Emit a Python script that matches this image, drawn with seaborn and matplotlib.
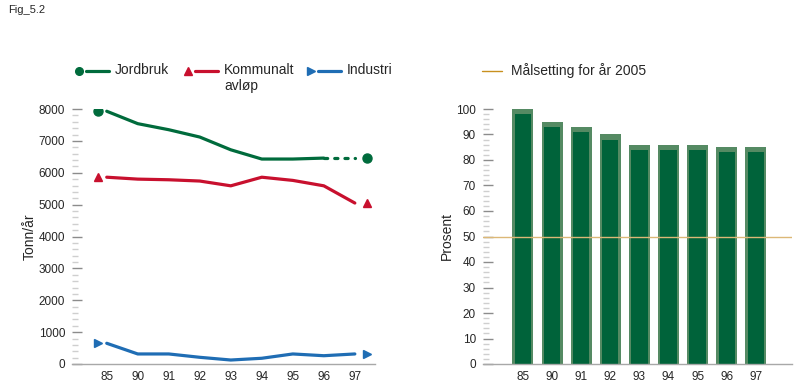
import numpy as np
import pandas as pd
import seaborn as sns
import matplotlib.pyplot as plt
from matplotlib.lines import Line2D
from matplotlib.ticker import MultipleLocator

# Data
years = ['85', '90', '91', '92', '93', '94', '95', '96', '97']
jordbruk = [7930, 7540, 7350, 7120, 6720, 6430, 6430, 6460, 6460]
kommunalt = [5860, 5800, 5780, 5740, 5590, 5860, 5760, 5590, 5050]
industri = [650, 315, 315, 210, 125, 180, 315, 260, 315]
prosent = [100, 95, 93, 90, 86, 86, 86, 85, 85]
maal_2005 = 50

green = '#006b3c'
red = '#c8102e'
blue = '#1f6db4'
bar_light = '#558a63'
bar_dark = '#00633a'
goal_col = '#dcb877'
tick_major = '#8c8c8c'
tick_minor = '#cfcfcf'

sns.set_theme(style='white')
plt.rcParams['font.family'] = ['Liberation Sans', 'DejaVu Sans']

W, H = 800, 384
fig = plt.figure(figsize=(W / 100, H / 100), dpi=100)
ax1 = fig.add_axes([72 / W, 20 / H, 303 / W, 255 / H])
ax2 = fig.add_axes([483 / W, 20 / H, 309 / W, 255 / H])


def px(x, y):
    # pixel position -> figure fraction
    return x / W, 1 - y / H


fig.text(*px(8, 10), 'Fig_5.2', fontsize=8, va='center', ha='left')

# ---- left: lines
df = pd.DataFrame({'pos': np.arange(len(years)), 'Jordbruk': jordbruk,
                   'Kommunalt': kommunalt, 'Industri': industri})
lw = 2.3
n = len(years)
sns.lineplot(data=df.iloc[:n - 1], x='pos', y='Jordbruk', ax=ax1, color=green, lw=lw)
sns.lineplot(data=df.iloc[n - 2:], x='pos', y='Jordbruk', ax=ax1, color=green, lw=lw,
             linestyle=(0, (1, 2.2)), dash_capstyle='round')
sns.lineplot(data=df, x='pos', y='Kommunalt', ax=ax1, color=red, lw=lw)
sns.lineplot(data=df, x='pos', y='Industri', ax=ax1, color=blue, lw=lw)

# end markers, offset outside the first and last year
series = [('Jordbruk', green, 'o'), ('Kommunalt', red, '^'), ('Industri', blue, '>')]
left_x, right_x = -0.27, n - 1 + 0.38
for col, c, m in series:
    ax1.plot([left_x, right_x], [df[col].iloc[0], df[col].iloc[-1]], ls='none',
             marker=m, color=c, ms=6.5 if m == 'o' else 6)

ax1.set_xlim(-1.12, 8.65)
ax1.set_ylim(0, 8000)
ax1.set_xticks(range(n))
ax1.set_xticklabels(years)
ax1.set_xlabel('')
ax1.set_ylabel('Tonn/år', fontsize=10, labelpad=1)

# ---- right: bars
bdf = pd.DataFrame({'year': years, 'prosent': prosent})
sns.barplot(data=bdf, x='year', y='prosent', ax=ax2, color=bar_light, width=0.72,
            saturation=1, linewidth=0, edgecolor='none')
sns.barplot(data=bdf.assign(prosent=bdf['prosent'] - 2), x='year', y='prosent', ax=ax2,
            color=bar_dark, width=0.56, saturation=1, linewidth=0, edgecolor='none')
ax2.axhline(maal_2005, color=goal_col, lw=1)
ax2.set_xlim(-1.37, 9.24)
ax2.set_ylim(0, 100)
ax2.set_xlabel('')
ax2.set_ylabel('Prosent', fontsize=10, labelpad=2)

for ax, maj, mino in [(ax1, 1000, 200), (ax2, 10, 2)]:
    sns.despine(ax=ax, left=True)
    ax.spines['bottom'].set_color('#a8a8a8')
    ax.spines['bottom'].set_linewidth(1)
    ax.yaxis.set_major_locator(MultipleLocator(maj))
    ax.yaxis.set_minor_locator(MultipleLocator(mino))
    ax.tick_params(axis='y', which='major', direction='in', length=7, width=1,
                   color=tick_major, labelsize=8.5, pad=5, left=True)
    ax.tick_params(axis='y', which='minor', direction='in', length=4, width=1,
                   color=tick_minor, left=True)
    ax.tick_params(axis='x', length=0, labelsize=8.5, pad=5)
    ax.set_facecolor('none')

# ---- legends, drawn by hand so the two-line label hangs from the top line
leg_y = 71
for (label, c, m), x0 in zip(
        [('Jordbruk', green, 'o'), ('Kommunalt\navløp', red, '^'), ('Industri', blue, '>')],
        [79, 188, 311]):
    fig.add_artist(Line2D([px(x0, 0)[0]], [px(0, leg_y)[1]], ls='none', marker=m,
                          color=c, ms=5.5, transform=fig.transFigure))
    fig.add_artist(Line2D([px(x0 + 7, 0)[0], px(x0 + 30, 0)[0]],
                          [px(0, leg_y)[1]] * 2, color=c, lw=2.3,
                          transform=fig.transFigure))
    fig.text(*px(x0 + 36, leg_y - 8), label, fontsize=10, va='top', ha='left',
             linespacing=1.15)

fig.add_artist(Line2D([px(482, 0)[0], px(502, 0)[0]], [px(0, leg_y)[1]] * 2,
                      color='#c8901e', lw=1, transform=fig.transFigure))
fig.text(*px(511, leg_y - 8), 'Målsetting for år 2005', fontsize=10, va='top',
         ha='left')

fig.savefig('out.png', dpi=100)
